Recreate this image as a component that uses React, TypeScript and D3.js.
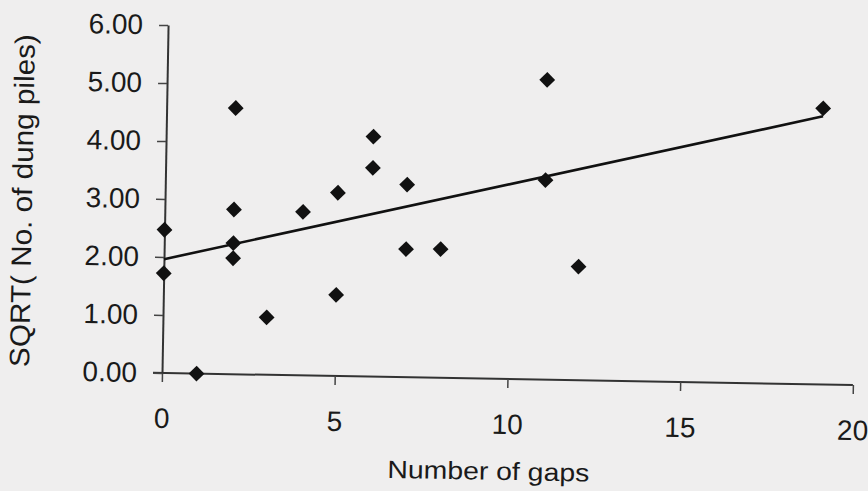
import React, { useEffect, useRef } from "react";
import * as d3 from "d3";

// number of gaps (x) and sqrt of dung pile count (y)
const gaps = [0, 0, 1, 2, 2, 2, 2, 3, 4, 5, 5, 6, 6, 7, 7, 8, 11, 11, 12, 19];
const sqrtPiles = [2.47, 1.72, 0, 4.59, 2.84, 2.26, 2.0, 0.99, 2.82, 3.16, 1.4, 4.14, 3.6, 3.32, 2.21, 2.22, 5.17, 3.44, 1.96, 4.76];
const xTicks = [0, 5, 10, 15, 20];
const yTicks = [0, 1, 2, 3, 4, 5, 6];
const xTitle = "Number of gaps";
const yTitle = "SQRT( No. of dung piles)";

const width = 868;
const height = 491;

const App = () => {
    const ref = useRef<SVGSVGElement>(null);

    useEffect(() => {
        const svg = d3.select(ref.current);
        svg.selectAll("*").remove();

        const font = "'Liberation Sans', Arial, sans-serif";
        const ink = "#1a1a1a";
        const originX = 162;
        const originY = 373;

        svg.append("rect")
            .attr("width", width)
            .attr("height", height)
            .attr("fill", "#efeeee");

        // the scan is turned about a degree clockwise
        const chart = svg.append("g")
            .attr("transform", "rotate(1," + originX + "," + originY + ")");

        const xScale = d3.scaleLinear().domain([0, 20]).range([originX, 853]);
        const yScale = d3.scaleLinear().domain([0, 6]).range([originY, 25]);

        const xAxis = d3.axisBottom(xScale)
            .tickValues(xTicks)
            .tickFormat(d3.format("d"))
            .tickSize(9)
            .tickSizeOuter(0)
            .tickPadding(26);
        const yAxis = d3.axisLeft(yScale)
            .tickValues(yTicks)
            .tickFormat(d3.format(".2f"))
            .tickSize(9)
            .tickSizeOuter(0)
            .tickPadding(16);

        const gx = chart.append("g")
            .attr("transform", "translate(0," + originY + ")")
            .call(xAxis);
        const gy = chart.append("g")
            .attr("transform", "translate(" + originX + ",0)")
            .call(yAxis);

        [gx, gy].forEach((g) => {
            g.select(".domain").attr("stroke", "#333").attr("stroke-width", 2);
            g.selectAll(".tick line").attr("stroke", "#444").attr("stroke-width", 1.5);
            g.selectAll(".tick text")
                .attr("fill", ink)
                .style("font-family", font)
                .style("font-size", "28px");
        });
        // x axis runs a little past the y axis on the left
        gx.select(".domain").attr("d", "M" + (originX - 9) + ",0H" + xScale(20));

        // least squares line
        const mx = d3.mean(gaps) as number;
        const my = d3.mean(sqrtPiles) as number;
        const sxy = d3.sum(gaps, (x, i) => (x - mx) * (sqrtPiles[i] - my));
        const sxx = d3.sum(gaps, (x) => (x - mx) * (x - mx));
        const slope = sxy / sxx;
        const intercept = my - slope * mx;
        const lineX = [0, d3.max(gaps) as number];

        chart.append("path")
            .datum(lineX)
            .attr("fill", "none")
            .attr("stroke", "#111")
            .attr("stroke-width", 2.6)
            .attr("d", d3.line<number>()
                .x((d) => xScale(d))
                .y((d) => yScale(intercept + slope * d)));

        const diamond = d3.symbol().type(d3.symbolSquare).size(125);
        chart.selectAll(".point")
            .data(gaps)
            .enter()
            .append("path")
            .attr("class", "point")
            .attr("d", diamond)
            .attr("fill", "#111")
            .attr("transform", (d, i) => "translate(" + xScale(d) + "," + yScale(sqrtPiles[i]) + ") rotate(45)");

        chart.append("text")
            .text(xTitle)
            .attr("x", originX + 328)
            .attr("y", originY + 101)
            .attr("text-anchor", "middle")
            .attr("textLength", 202)
            .attr("lengthAdjust", "spacingAndGlyphs")
            .attr("fill", ink)
            .style("font-family", font)
            .style("font-size", "25px");

        chart.append("text")
            .text(yTitle)
            .attr("transform", "translate(" + (originX - 133) + "," + 203 + ") rotate(-90)")
            .attr("text-anchor", "middle")
            .attr("textLength", 333)
            .attr("lengthAdjust", "spacingAndGlyphs")
            .attr("fill", ink)
            .style("font-family", font)
            .style("font-size", "28px");
    }, []);

    return (
        <svg ref={ref} width={width} height={height} style={{ position: "absolute", left: 0, top: 0 }} />
    );
};

export default App;
